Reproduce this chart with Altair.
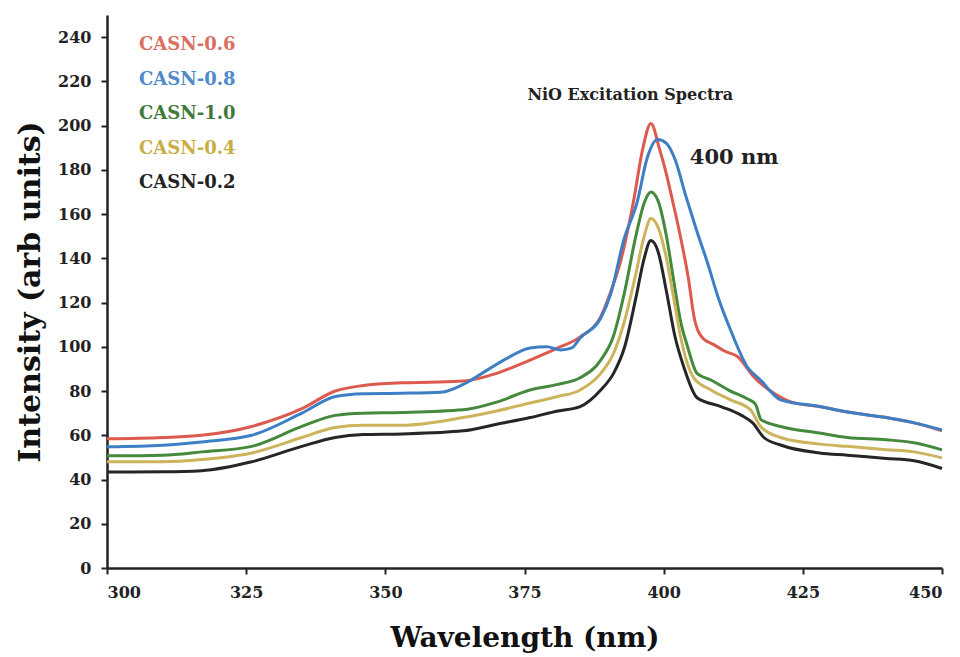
import altair as alt
import pandas as pd

series_names = ["CASN-0.6", "CASN-0.8", "CASN-1.0", "CASN-0.4", "CASN-0.2"]
line_colors = ["#dc5a4e", "#3d7fc4", "#45893c", "#cdb45c", "#262626"]
label_colors = ["#d9705f", "#4f8ac9", "#3f7a3a", "#c9ae45", "#222222"]

wl_06 = [300, 310, 317, 326, 335, 341, 346, 353, 358, 364, 370, 376, 381, 385, 388.7, 390.5, 392.3,
         394.6, 396.2, 397.7, 399.3, 400.5, 401.6, 403, 404.5, 405.5, 407, 409, 411, 413.3, 416.2,
         419.8, 423, 428, 433, 440, 445, 450]
int_06 = [58.4, 59, 60, 64, 72, 80, 82.5, 83.7, 84, 84.5, 88, 94, 99.5, 104.5, 113.6, 125, 139,
          166, 189, 201, 189, 178, 166, 150, 130, 113, 104, 101, 98, 95.5, 86.4,
          79, 75, 73, 70.5, 68, 65.6, 62]

wl_08 = [300, 310, 317, 326, 335, 341, 346, 353, 360, 364, 368, 372, 376, 379, 381.5, 383.5, 385,
         388.7, 390.5, 392.8, 395.3, 397, 398.9, 400.5, 402, 404, 406, 408, 409.7, 412, 415, 417.4,
         421, 428, 433, 440, 445, 450]
int_08 = [54.8, 55.5, 57, 60, 70, 77.5, 78.8, 79, 79.5, 83, 89, 95, 99.5, 100, 98.6, 99.5, 104,
          113, 124, 148, 166, 185, 193.7, 192, 185, 168, 152, 137, 123, 107.7, 91, 85,
          76, 73, 70.5, 68, 65.6, 62.4]

wl_10 = [300, 310, 317, 326, 335, 341, 346, 353, 364, 370, 376, 381, 385, 388.7, 391, 393, 395,
         396.5, 397.7, 399, 400.5, 401.8, 403, 404.3, 406, 408.5, 412, 415, 416.5, 417.5, 421,
         428, 433, 440, 445, 450]
int_10 = [50.7, 51, 52.5, 55, 64, 69, 70, 70.3, 71.5, 75, 80.5, 83, 86, 94, 105, 125, 150,
          165, 170, 166, 150, 130, 112, 100, 88, 85, 80, 76.5, 74, 67, 64,
          61, 59, 58, 56.6, 53.4]

wl_04 = [300, 310, 317, 326, 335, 341, 346, 353, 364, 370, 376, 381, 385, 388.7, 391, 393, 395,
         396.5, 397.7, 399, 400.5, 401.8, 403, 405.4, 408.5, 412, 415.6, 417.4, 421, 428, 433,
         440, 445, 450]
int_04 = [48, 48, 49, 52, 59, 63.5, 64.5, 64.5, 68, 71, 74.6, 77.5, 80.5, 88, 97, 112, 133,
          150, 158, 154, 140, 122, 105, 86, 80.5, 76, 71.5, 64, 59, 56, 55,
          53.5, 52.5, 49.8]

wl_02 = [300, 310, 317, 326, 335, 341, 346, 353, 364, 370, 376, 381, 385, 388.7, 391, 393, 395,
         396.5, 397.7, 399, 400.5, 402, 403.6, 406, 410.3, 414, 416, 418, 421, 428, 433, 440,
         445, 450]
int_02 = [43.4, 43.5, 44, 48, 55, 59, 60.3, 60.6, 62, 65, 68, 71, 73, 80.5, 88, 100, 122,
          140, 148, 143, 125, 105, 91, 77, 73, 69, 65.6, 59, 55.6, 52, 51, 49.5,
          48.5, 45]

x_ticks = [300, 325, 350, 375, 400, 425, 450]
y_ticks = [0, 20, 40, 60, 80, 100, 120, 140, 160, 180, 200, 220, 240]

ann_text = ["NiO Excitation Spectra", "400 nm"]
ann_x = [394, 404.7]
ann_y = [214, 185.5]

rows = []
for name, wl, it in [("CASN-0.6", wl_06, int_06), ("CASN-0.8", wl_08, int_08),
                     ("CASN-1.0", wl_10, int_10), ("CASN-0.4", wl_04, int_04),
                     ("CASN-0.2", wl_02, int_02)]:
    for w, v in zip(wl, it):
        rows.append({"series": name, "wavelength": w, "intensity": v})
df = pd.DataFrame(rows)

ann = pd.DataFrame({"text": ann_text, "x": ann_x, "y": ann_y})

FONT = "DejaVu Serif"

x_scale = alt.Scale(domain=[300, 450], nice=False)
y_scale = alt.Scale(domain=[0, 250], nice=False)

names_js = "[" + ",".join('"' + n + '"' for n in series_names) + "]"
color_expr = ""
for i, c in enumerate(label_colors[:-1]):
    color_expr += "indexof(" + names_js + ", datum.label) == " + str(i) + " ? '" + c + "' : "
color_expr += "'" + label_colors[-1] + "'"

lines = alt.Chart(df).mark_line(strokeWidth=3, interpolate="monotone").encode(
    x=alt.X("wavelength:Q", scale=x_scale,
            axis=alt.Axis(values=x_ticks, title="Wavelength (nm)", titleFontSize=28,
                          titlePadding=24, labelPadding=10)),
    y=alt.Y("intensity:Q", scale=y_scale,
            axis=alt.Axis(values=y_ticks, title="Intensity (arb units)", titleFontSize=30,
                          titlePadding=12, labelPadding=10)),
    color=alt.Color("series:N",
                    scale=alt.Scale(domain=series_names, range=line_colors),
                    legend=alt.Legend(title=None, orient="none", legendX=14, legendY=21,
                                      symbolOpacity=0, symbolStrokeWidth=0, symbolSize=1,
                                      labelOffset=0, labelFont=FONT, labelFontWeight="bold",
                                      labelFontSize=18, rowPadding=16.5, padding=0,
                                      labelColor={"expr": color_expr})),
    detail="series:N",
)

texts1 = alt.Chart(ann.iloc[[0]]).mark_text(
    font=FONT, fontWeight="bold", fontSize=16, align="center", baseline="middle", color="#222"
).encode(x=alt.X("x:Q", scale=x_scale), y=alt.Y("y:Q", scale=y_scale), text="text:N")

texts2 = alt.Chart(ann.iloc[[1]]).mark_text(
    font=FONT, fontWeight="bold", fontSize=21, align="left", baseline="middle", color="#222"
).encode(x=alt.X("x:Q", scale=x_scale), y=alt.Y("y:Q", scale=y_scale), text="text:N")

chart = alt.layer(lines, texts1, texts2).properties(
    width=835, height=553,
    background="white",
    autosize=alt.AutoSizeParams(type="none"),
    padding={"left": 107, "top": 15, "right": 18, "bottom": 89},
).configure_view(stroke=None).configure_axis(
    grid=False, labelFont=FONT, labelFontWeight="bold", labelFontSize=16, labelColor="#222",
    titleFont=FONT, titleFontWeight="bold", titleColor="#111",
    domainColor="#222", domainWidth=2.5, tickColor="#222", tickWidth=2, tickSize=6,
)

chart.save("out.html", embed_options={"renderer": "svg", "actions": False})
